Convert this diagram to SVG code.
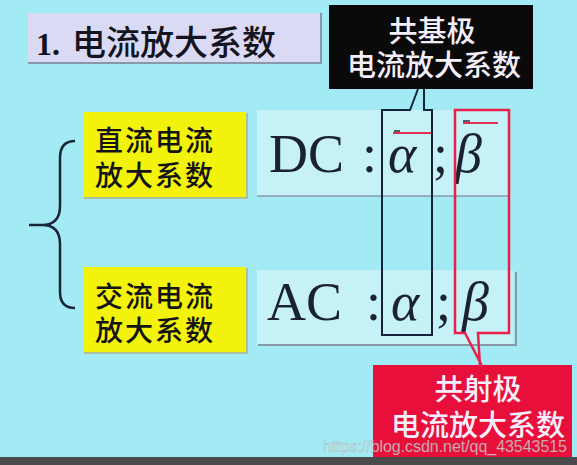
<svg xmlns="http://www.w3.org/2000/svg" width="577" height="465" viewBox="0 0 577 465">
<style>
.cjk{font-family:"Noto Sans CJK SC","Noto Sans",sans-serif;font-weight:500;}
.lab{font-size:28px;fill:#141414;letter-spacing:2px;}
.wt{font-size:29px;fill:#f4eefa;text-anchor:middle;}
.ser{font-family:"Liberation Serif","Times New Roman",serif;fill:#1a2230;font-size:54px;}
.it{font-style:italic;}
.yel{fill:#f2f20c;}
.fb{fill:#c6f1f7;}
.sh{stroke:#8898a8;stroke-width:2;fill:none;}
.blk{stroke:#15233a;stroke-width:2;fill:none;}
.red{stroke:#e8204a;stroke-width:2.5;fill:none;}
.bar{stroke:#e03050;stroke-width:2;}
</style>
<rect x="0" y="0" width="577" height="465" fill="#a2ebf5"/>
<rect x="0" y="457" width="577" height="8" fill="#4a4a4a"/>

<g id="title">
<rect x="28" y="13" width="292" height="49" fill="#dadaf4"/>
<path d="M28,63 H321 V13" class="sh"/>
<text x="36" y="55" class="cjk" font-size="34" fill="#141420"><tspan font-family="Liberation Serif,serif" font-weight="bold" font-size="32">1.</tspan><tspan x="72">电流放大系数</tspan></text>
</g>

<g id="cb-label">
<rect x="329" y="5" width="204" height="84" fill="#0a0a0a"/>
<text x="432" y="42" class="cjk wt" font-size="28">共基极</text>
<text x="434" y="76" class="cjk wt">电流放大系数</text>
</g>

<g id="dc-label">
<rect x="83" y="112" width="163" height="85" class="yel"/>
<path d="M84,198 H247 V113" stroke="#b0b080" stroke-width="1.5" fill="none"/>
<text x="95" y="151" class="cjk lab">直流电流</text>
<text x="95" y="186" class="cjk lab">放大系数</text>
</g>

<g id="ac-label">
<rect x="83" y="267" width="163" height="85" class="yel"/>
<path d="M84,353 H247 V268" stroke="#b0b080" stroke-width="1.5" fill="none"/>
<text x="95" y="307" class="cjk lab">交流电流</text>
<text x="95" y="341" class="cjk lab">放大系数</text>
</g>

<g id="dc-formula">
<rect x="257" y="110" width="253" height="86" class="fb"/>
<line x1="257" y1="196" x2="510" y2="196" stroke="#8898a8" stroke-width="1.5"/>
<text x="269" y="172" class="ser">DC</text>
<text x="362" y="172" class="ser">:</text>
<text x="388" y="172" class="ser it">α</text>
<text x="433" y="172" class="ser">;</text>
<text x="455" y="172" class="ser it" font-size="58">β</text>
<line x1="393" y1="133" x2="432" y2="133" class="bar"/>
<line x1="394" y1="131" x2="400" y2="131" stroke="#2a2a3a" stroke-width="1.5"/>
<line x1="463" y1="123" x2="498" y2="123" class="bar"/>
<line x1="463" y1="121" x2="470" y2="121" stroke="#2a2a3a" stroke-width="1.5"/>
</g>

<g id="ac-formula">
<rect x="257" y="270" width="256" height="74" class="fb"/>
<path d="M258,345 H516 V272" class="sh" stroke-width="1.5"/>
<text x="267" y="320" class="ser">AC</text>
<text x="366" y="320" class="ser">:</text>
<text x="391" y="320" class="ser it">α</text>
<text x="436" y="320" class="ser">;</text>
<text x="462" y="320" class="ser it" font-size="58">β</text>
</g>

<g id="ce-label">
<rect x="373" y="365" width="199" height="92" fill="#e8103a"/>
<text x="478" y="400" class="cjk wt" font-size="28">共射极</text>
<text x="478" y="436" class="cjk wt">电流放大系数</text>
</g>

<g id="connectors">
<path d="M75,141 Q60,141 60,158 V206 Q60,225 42,225 H29 H42 Q60,225 60,244 V292 Q60,308 75,308" stroke="#1a2535" stroke-width="2.5" fill="none"/>
<path d="M424,89 V110 H432 V335 H382 V110 H410 L418,89" class="blk"/>
<path d="M482,366 L465,333 H455 V110 H509 V333 H478 L480,366" class="red"/>
</g>

<text x="323" y="452" font-family="Liberation Sans,Arial,sans-serif" font-size="16" fill="#e4e4e4" fill-opacity="0.75" stroke="#606060" stroke-opacity="0.35" stroke-width="0.5" textLength="244">https://blog.csdn.net/qq_43543515</text>
</svg>
